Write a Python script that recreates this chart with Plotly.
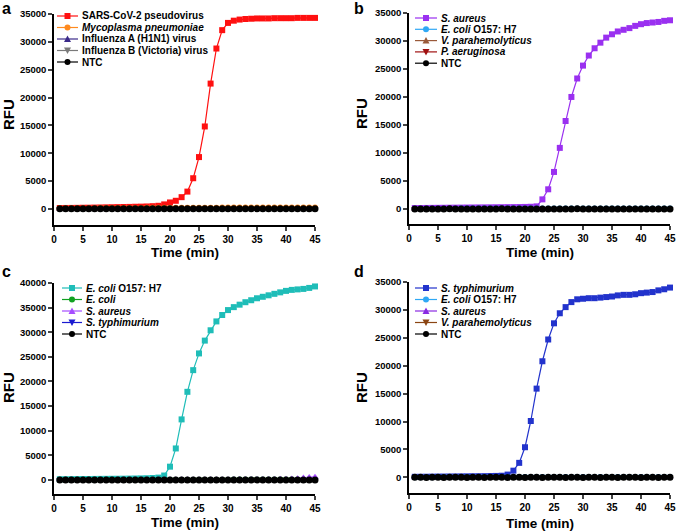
import plotly.graph_objects as go

time_min = list(range(1, 46))

# Panel a
a_sars = [150,160,170,180,200,210,230,250,270,290,310,330,350,380,400,430,480,550,800,1150,
          1450,2100,3100,5500,9300,14800,22500,28800,32100,33400,33800,34000,34100,34150,34200,
          34200,34200,34250,34250,34250,34250,34300,34300,34300,34300]
a_myco = [100,110,110,120,120,130,130,140,140,150,150,160,160,170,170,180,180,190,190,200,
          200,200,210,210,210,220,220,220,230,230,230,230,240,240,240,240,250,250,250,250,
          250,260,260,260,260]
a_fluA = [30,30,30,35,35,35,40,40,40,40,45,45,45,45,50,50,50,50,55,55,55,55,55,60,60,60,60,
          60,65,65,65,65,65,70,70,70,70,70,70,75,75,75,75,75,75]
a_fluB = [10,10,10,12,12,12,14,14,14,15,15,15,16,16,16,18,18,18,20,20,20,20,22,22,22,22,24,
          24,24,24,25,25,25,25,26,26,26,26,27,27,27,28,28,28,28]
a_ntc = [0,2,-3,1,0,-2,3,0,1,-1,2,0,-2,1,0,3,-1,0,2,-2,1,0,-1,2,0,1,-2,0,3,-1,0,2,-3,1,0,
         -1,2,0,1,-2,0,1,-1,0,2]

# Panel b
b_saur = [150,160,170,180,190,200,210,220,230,240,250,260,270,280,290,300,310,320,330,350,
          380,450,1700,3500,6600,10900,15700,20000,23300,25600,27400,28700,29700,30600,31200,
          31700,32000,32300,32700,33000,33200,33300,33400,33600,33700]
b_ecoli = [40,40,42,42,44,44,46,46,48,48,50,50,52,52,54,54,56,56,58,58,60,60,62,62,64,64,66,
           66,68,68,70,70,72,72,74,74,76,76,78,78,80,80,82,82,84]
b_vpara = [20,20,22,22,24,24,26,26,28,28,30,30,32,32,34,34,36,36,38,38,40,40,42,42,44,44,46,
           46,48,48,50,50,52,52,54,54,56,56,58,58,60,60,62,62,64]
b_paer = [10,10,11,11,12,12,13,13,14,14,15,15,16,16,17,17,18,18,19,19,20,20,21,21,22,22,23,
          23,24,24,25,25,26,26,27,27,28,28,29,29,30,30,31,31,32]
b_ntc = [0,2,-3,1,0,-2,3,0,1,-1,2,0,-2,1,0,3,-1,0,2,-2,1,0,-1,2,0,1,-2,0,3,-1,0,2,-3,1,0,
         -1,2,0,1,-2,0,1,-1,0,2]

# Panel c
c_o157 = [150,160,170,180,190,200,210,220,230,240,250,260,280,300,320,350,400,480,900,2700,
          6400,12300,17900,22300,25700,28300,30400,32200,33500,34500,35100,35600,36100,36500,
          36900,37200,37500,37800,38100,38400,38600,38700,38800,39000,39300]
c_ecoli = [40,40,42,42,44,44,46,46,48,48,50,50,52,52,54,54,56,56,58,58,60,60,62,62,64,64,66,
           66,68,68,70,70,72,72,74,74,76,76,78,78,80,80,82,82,84]
c_saur = [100,100,105,105,110,110,115,115,120,120,125,125,130,130,135,135,140,140,145,145,150,
          150,155,155,160,160,165,165,170,170,175,175,180,185,190,200,210,220,230,250,300,
          350,480,600,650]
c_styph = [30,30,32,32,34,34,36,36,38,38,40,40,42,42,44,44,46,46,48,48,50,50,52,52,54,54,56,
           56,58,58,60,60,62,62,64,64,66,66,68,68,70,70,72,72,74]
c_ntc = [0,2,-3,1,0,-2,3,0,1,-1,2,0,-2,1,0,3,-1,0,2,-2,1,0,-1,2,0,1,-2,0,3,-1,0,2,-3,1,0,
         -1,2,0,1,-2,0,1,-1,0,2]

# Panel d
d_styph = [100,110,120,130,140,150,160,170,180,190,200,210,220,240,260,300,500,1200,2600,5400,
           10100,15900,20800,24700,27600,29400,30500,31400,31900,32000,32100,32100,32200,32300,
           32400,32600,32700,32700,32800,33000,33100,33200,33500,33700,34000]
d_o157 = [40,40,42,42,44,44,46,46,48,48,50,50,52,52,54,54,56,56,58,58,60,60,62,62,64,64,66,
          66,68,68,70,70,72,72,74,74,76,76,78,78,80,80,82,82,84]
d_saur = [20,20,22,22,24,24,26,26,28,28,30,30,32,32,34,34,36,36,38,38,40,40,42,42,44,44,46,
          46,48,48,50,50,52,52,54,54,56,56,58,58,60,60,62,62,64]
d_vpara = [10,10,11,11,12,12,13,13,14,14,15,15,16,16,17,17,18,18,19,19,20,20,21,21,22,22,23,
           23,24,24,25,25,26,26,27,27,28,28,29,29,30,30,31,31,32]
d_ntc = [0,2,-3,1,0,-2,3,0,1,-1,2,0,-2,1,0,3,-1,0,2,-2,1,0,-1,2,0,1,-2,0,3,-1,0,2,-3,1,0,
         -1,2,0,1,-2,0,1,-1,0,2]

x_ticks = [0, 5, 10, 15, 20, 25, 30, 35, 40, 45]

panels = [
    ("a", "x", "y", [
        ("SARS-CoV-2 pseudovirus", a_sars, "#FF1010", "square"),
        ("<i>Mycoplasma pneumoniae</i>", a_myco, "#FF8A1F", "circle"),
        ("Influenza A (H1N1) virus", a_fluA, "#3B2A8A", "triangle-up"),
        ("Influenza B (Victoria) virus", a_fluB, "#7A7A7A", "triangle-down"),
        ("NTC", a_ntc, "#000000", "circle"),
    ], 35000, -2900),
    ("b", "x2", "y2", [
        ("<i>S. aureus</i>", b_saur, "#9A30F0", "square"),
        ("<i>E. coli</i> O157: H7", b_ecoli, "#2FA8F5", "circle"),
        ("<i>V. parahemolyticus</i>", b_vpara, "#9A5A3A", "triangle-up"),
        ("<i>P. aeruginosa</i>", b_paer, "#A01010", "triangle-down"),
        ("NTC", b_ntc, "#000000", "circle"),
    ], 35000, -2700),
    ("c", "x3", "y3", [
        ("<i>E. coli</i> O157: H7", c_o157, "#1FBDB8", "square"),
        ("<i>E. coli</i>", c_ecoli, "#10A020", "circle"),
        ("<i>S. aureus</i>", c_saur, "#A64DFF", "triangle-up"),
        ("<i>S. typhimurium</i>", c_styph, "#1A1AD0", "triangle-down"),
        ("NTC", c_ntc, "#000000", "circle"),
    ], 40000, -2850),
    ("d", "x4", "y4", [
        ("<i>S. typhimurium</i>", d_styph, "#2233CC", "square"),
        ("<i>E. coli</i> O157: H7", d_o157, "#2FA8F5", "circle"),
        ("<i>S. aureus</i>", d_saur, "#8A2BE2", "triangle-up"),
        ("<i>V. parahemolyticus</i>", d_vpara, "#8B4513", "triangle-down"),
        ("NTC", d_ntc, "#000000", "circle"),
    ], 35000, -2800),
]

W, H = 676, 531
# plot areas in pixels: (left, right, top, bottom)
dom_px = {
    "a": (54, 315, 14, 225),
    "b": (409, 670, 13, 224),
    "c": (54, 315, 283, 494),
    "d": (409, 670, 282, 493),
}
letter_pos = {"a": (6, 8), "b": (359, 8), "c": (6, 271), "d": (359, 271)}
xtitle_pos = {"a": (185, 252), "b": (540, 252), "c": (185, 522), "d": (540, 523)}
ytitle_pos = {"a": (8, 115), "b": (361, 114), "c": (8, 388), "d": (361, 388)}
# legend: (line x0, line x1, text x, first row y, row step)
legend_px = {
    "a": (57, 78, 80, 16, 11.5),
    "b": (415, 437, 439, 18, 11.3),
    "c": (62, 82, 84, 288, 11.5),
    "d": (415, 437, 439, 288, 11.5),
}

FONT = "Liberation Sans, Arial, sans-serif"


def px(xp):
    return xp / W


def py(yp):
    return 1 - yp / H


fig = go.Figure()
layout = dict(width=W, height=H, margin=dict(l=0, r=0, t=0, b=0),
              paper_bgcolor="white", plot_bgcolor="white", showlegend=False,
              font=dict(family=FONT, color="black"))
annotations = []
shapes = []

for letter, xa, ya, series, ymax, ymin in panels:
    for name, vals, color, sym in series:
        msize = 7 if name == "NTC" else 6
        fig.add_trace(go.Scatter(
            x=time_min, y=vals, name=name, mode="lines+markers",
            xaxis=xa, yaxis=ya, cliponaxis=False,
            line=dict(color=color, width=1.2),
            marker=dict(symbol=sym, size=msize, color=color),
        ))
    l, r, t, b = dom_px[letter]
    xkey = "xaxis" + xa[1:]
    ykey = "yaxis" + ya[1:]
    layout[xkey] = dict(domain=[px(l), px(r)], anchor=ya, range=[0, 45],
                        tickvals=x_ticks, showline=True, linecolor="black",
                        linewidth=1.5, ticks="outside", ticklen=4, tickwidth=1.5,
                        showgrid=False, zeroline=False, automargin=False,
                        tickfont=dict(size=10, weight="bold", family=FONT))
    layout[ykey] = dict(domain=[py(b), py(t)], anchor=xa, range=[ymin, ymax],
                        tickvals=list(range(0, ymax + 1, 5000)), tickformat="d",
                        showline=True, linecolor="black", linewidth=1.5,
                        ticks="outside", ticklen=4, tickwidth=1.5, showgrid=False,
                        zeroline=False, automargin=False,
                        tickfont=dict(size=9.5, weight="bold", family=FONT))
    # panel letter
    lx, ly = letter_pos[letter]
    annotations.append(dict(text=f"<b>{letter}</b>", x=px(lx), y=py(ly),
                            xref="paper", yref="paper", showarrow=False,
                            font=dict(size=16, family=FONT),
                            xanchor="center", yanchor="middle"))
    # axis titles
    tx, ty = xtitle_pos[letter]
    annotations.append(dict(text="<b>Time (min)</b>", x=px(tx), y=py(ty),
                            xref="paper", yref="paper", showarrow=False,
                            font=dict(size=13.5, family=FONT),
                            xanchor="center", yanchor="middle"))
    rx, ry = ytitle_pos[letter]
    annotations.append(dict(text="<b>RFU</b>", x=px(rx), y=py(ry), textangle=-90,
                            xref="paper", yref="paper", showarrow=False,
                            font=dict(size=15, family=FONT),
                            xanchor="center", yanchor="middle"))
    # legend
    x0, x1, xt, y0, step = legend_px[letter]
    xm = (x0 + x1) / 2
    for i, (name, vals, color, sym) in enumerate(series):
        yy = y0 + i * step
        shapes.append(dict(type="line", xref="paper", yref="paper",
                           x0=px(x0), x1=px(x1), y0=py(yy), y1=py(yy),
                           line=dict(color=color, width=1.2)))
        s = 3
        if sym == "square":
            shapes.append(dict(type="rect", xref="paper", yref="paper",
                               x0=px(xm - s), x1=px(xm + s), y0=py(yy + s), y1=py(yy - s),
                               fillcolor=color, line=dict(width=0)))
        elif sym == "circle":
            shapes.append(dict(type="circle", xref="paper", yref="paper",
                               x0=px(xm - s), x1=px(xm + s), y0=py(yy + s), y1=py(yy - s),
                               fillcolor=color, line=dict(width=0)))
        elif sym == "triangle-up":
            path = (f"M {px(xm - 3.5)} {py(yy + 3)} L {px(xm + 3.5)} {py(yy + 3)} "
                    f"L {px(xm)} {py(yy - 3.5)} Z")
            shapes.append(dict(type="path", xref="paper", yref="paper", path=path,
                               fillcolor=color, line=dict(width=0)))
        else:
            path = (f"M {px(xm - 3.5)} {py(yy - 3)} L {px(xm + 3.5)} {py(yy - 3)} "
                    f"L {px(xm)} {py(yy + 3.5)} Z")
            shapes.append(dict(type="path", xref="paper", yref="paper", path=path,
                               fillcolor=color, line=dict(width=0)))
        annotations.append(dict(text=f"<b>{name}</b>", x=px(xt), y=py(yy),
                                xref="paper", yref="paper", showarrow=False,
                                font=dict(size=10, family=FONT),
                                xanchor="left", yanchor="middle"))

layout["annotations"] = annotations
layout["shapes"] = shapes
fig.update_layout(**layout)
fig.write_html("out.html", config={"displayModeBar": False},
               post_script="document.body.style.margin='0';"
                           "document.body.style.overflow='hidden';")
